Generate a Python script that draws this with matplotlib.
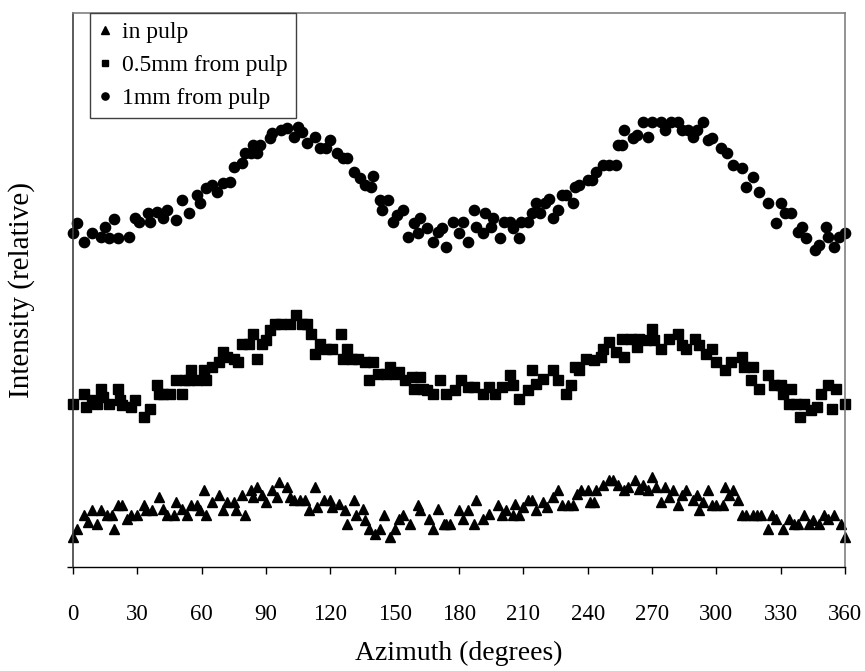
import matplotlib
matplotlib.use('Agg')
import matplotlib.pyplot as plt

# in pulp (triangles)
tri_deg = [0, 2, 5, 7, 9, 11, 13, 16, 18, 19, 21, 23, 25, 27, 30, 33, 34, 37, 40, 42,
           44, 47, 48, 51, 53, 55, 58, 59, 61, 62, 65, 68, 70, 72, 75, 76, 79, 80, 83, 84,
           86, 88, 90, 93, 95, 96, 100, 101, 103, 106, 108, 110, 113, 114, 117, 120, 121, 124, 127, 128,
           131, 132, 135, 136, 138, 141, 143, 145, 148, 150, 152, 154, 157, 161, 162, 166, 168, 170, 173, 174,
           176, 180, 182, 184, 187, 188, 191, 194, 198, 200, 202, 205, 206, 208, 210, 212, 214, 216, 219, 221,
           224, 226, 228, 231, 233, 235, 237, 240, 241, 243, 244, 247, 250, 252, 254, 257, 259, 262, 264, 266,
           268, 270, 272, 274, 276, 278, 280, 282, 284, 286, 289, 291, 292, 294, 296, 298, 300, 303, 304, 306,
           308, 310, 312, 314, 317, 319, 321, 324, 326, 328, 331, 334, 336, 338, 341, 343, 345, 348, 350, 352,
           355, 358, 360]
tri_val = [6.1, 7.7, 10.4, 9.1, 11.4, 8.7, 11.4, 10.4, 10.4, 7.7, 12.4, 12.4, 9.7, 10.4, 10.4, 12.4, 11.4, 11.4, 14.1, 11.7,
           10.4, 10.4, 13.1, 11.7, 10.4, 12.4, 12.4, 11.4, 15.4, 10.4, 13.1, 14.4, 11.4, 13.1, 13.1, 11.4, 14.4, 10.4, 15.4, 14.1,
           16.1, 14.4, 13.1, 15.4, 14.1, 17.1, 16.1, 14.1, 13.4, 13.4, 13.4, 11.4, 16.1, 12.1, 13.4, 13.4, 12.1, 12.7, 11.4, 8.7,
           13.4, 10.4, 11.7, 9.4, 7.7, 6.7, 7.7, 10.4, 6.1, 7.7, 9.7, 10.4, 8.7, 12.4, 11.4, 9.7, 7.7, 11.7, 8.7, 8.7,
           8.7, 11.4, 9.7, 11.4, 8.7, 13.4, 9.7, 10.7, 12.4, 10.4, 11.4, 10.4, 12.7, 10.4, 12.1, 13.4, 13.4, 11.4, 13.1, 12.1,
           14.1, 15.4, 12.4, 12.4, 12.4, 14.7, 15.4, 15.4, 13.1, 13.1, 15.4, 16.4, 17.4, 17.4, 16.4, 15.4, 16.1, 17.4, 15.7, 16.4,
           15.4, 18.1, 16.1, 13.1, 16.1, 14.1, 15.4, 12.4, 14.4, 15.4, 13.4, 14.4, 11.4, 13.1, 15.4, 12.4, 12.4, 12.4, 16.1, 14.4,
           15.4, 13.4, 10.4, 10.4, 10.4, 10.4, 10.4, 7.7, 10.4, 9.7, 7.7, 9.7, 8.7, 8.7, 10.4, 8.7, 9.4, 8.7, 10.4, 9.7,
           10.4, 8.7, 6.1]

# 0.5mm from pulp (squares)
sq_deg = [0, 5, 6, 9, 11, 13, 14, 17, 21, 22, 23, 27, 29, 33, 36, 39, 40, 42, 45, 48,
          51, 52, 54, 55, 58, 61, 62, 65, 68, 70, 72, 75, 77, 79, 82, 84, 86, 88, 90, 92,
          94, 97, 101, 104, 107, 109, 111, 113, 115, 118, 121, 125, 126, 128, 130, 133, 136, 138, 140, 142,
          146, 148, 150, 152, 155, 158, 159, 162, 163, 165, 168, 171, 174, 178, 181, 184, 187, 191, 194, 197,
          200, 204, 205, 208, 212, 214, 216, 219, 224, 226, 230, 232, 234, 236, 239, 243, 246, 247, 250, 253,
          256, 257, 260, 263, 264, 267, 270, 271, 274, 278, 282, 284, 286, 290, 292, 295, 298, 300, 304, 307,
          312, 313, 316, 317, 320, 324, 327, 330, 331, 334, 335, 337, 339, 341, 344, 347, 349, 352, 354, 356,
          360]
sq_val = [32.7, 34.7, 32.1, 33.4, 32.7, 35.7, 34.1, 32.7, 35.7, 33.4, 32.4, 32.1, 33.4, 30.1, 31.7, 36.4, 34.7, 34.7, 34.7, 37.4,
          34.7, 37.4, 37.4, 39.4, 37.4, 39.4, 37.4, 40.1, 41.1, 43.1, 42.1, 41.7, 41.1, 44.7, 44.7, 46.7, 41.7, 44.7, 45.4, 47.4,
          48.7, 48.7, 48.7, 50.4, 48.7, 48.7, 46.7, 42.7, 44.7, 43.7, 43.7, 46.7, 41.7, 43.7, 41.7, 41.7, 41.1, 37.4, 41.1, 38.7,
          38.7, 40.1, 38.7, 39.1, 37.4, 38.1, 35.7, 38.1, 35.7, 35.4, 34.7, 37.4, 34.7, 35.4, 37.4, 36.1, 36.1, 34.7, 36.1, 34.7,
          36.1, 38.4, 36.4, 33.7, 35.4, 39.4, 36.7, 37.7, 39.4, 37.4, 34.7, 36.4, 40.1, 39.4, 41.7, 41.4, 42.1, 43.7, 45.1, 43.1,
          45.7, 42.1, 45.7, 44.1, 45.7, 45.4, 47.7, 45.4, 43.7, 45.7, 46.7, 44.4, 43.7, 45.7, 44.4, 42.7, 43.7, 41.1, 39.4, 41.1,
          42.1, 40.1, 37.4, 40.1, 35.7, 38.4, 36.4, 36.4, 34.7, 32.7, 35.7, 32.7, 30.1, 32.7, 31.4, 32.1, 34.7, 36.4, 31.7, 35.7,
          32.7]

# 1mm from pulp (circles)
circ_deg = [0, 2, 5, 9, 13, 15, 17, 19, 21, 26, 29, 31, 35, 36, 39, 42, 44, 48, 51, 54,
            58, 59, 62, 65, 67, 70, 73, 75, 79, 80, 83, 84, 86, 87, 92, 93, 97, 100, 103, 105,
            107, 109, 113, 115, 118, 120, 123, 126, 128, 131, 134, 136, 139, 140, 143, 144, 147, 149, 151, 154,
            156, 159, 161, 162, 165, 168, 170, 172, 174, 177, 180, 182, 184, 187, 188, 191, 192, 195, 196, 199,
            201, 204, 205, 208, 209, 212, 214, 216, 218, 220, 222, 224, 226, 228, 230, 233, 234, 236, 240, 242,
            244, 247, 250, 253, 254, 256, 257, 261, 263, 266, 268, 270, 274, 276, 279, 282, 284, 287, 289, 291,
            294, 296, 298, 302, 305, 308, 312, 314, 317, 320, 324, 328, 330, 332, 335, 338, 340, 342, 346, 348,
            351, 352, 355, 357, 360]
circ_val = [66.9, 68.9, 65.1, 66.8, 66.1, 68.1, 65.8, 69.7, 65.8, 66.1, 69.8, 69.1, 70.8, 69.1, 71.1, 69.8, 71.4, 69.4, 73.4, 70.8,
            74.4, 72.8, 75.8, 76.4, 75.1, 76.8, 77.1, 80.1, 80.8, 82.8, 82.8, 84.4, 82.8, 84.4, 85.8, 86.8, 87.4, 87.8, 86.1, 88.1,
            87.1, 84.8, 86.1, 83.8, 83.8, 85.4, 82.8, 81.8, 81.8, 79.1, 77.8, 76.4, 76.1, 78.2, 73.4, 71.4, 73.4, 69.1, 70.4, 71.4,
            66.1, 68.8, 66.8, 69.8, 67.8, 65.1, 67.1, 67.8, 64.1, 69.1, 66.8, 69.1, 65.1, 71.4, 68.1, 66.8, 70.8, 68.1, 69.8, 65.8,
            69.1, 69.1, 67.8, 65.8, 69.1, 69.1, 70.8, 72.8, 70.8, 72.8, 73.6, 69.8, 71.4, 74.4, 74.4, 72.8, 76.1, 76.4, 77.4, 77.4,
            79.1, 80.4, 80.4, 80.4, 84.4, 84.4, 87.4, 85.8, 86.4, 89.1, 86.1, 89.1, 89.1, 87.4, 89.1, 89.1, 87.4, 87.4, 86.1, 87.4,
            89.1, 85.4, 85.8, 83.8, 82.8, 80.4, 79.8, 76.1, 78.1, 75.1, 72.8, 68.8, 72.8, 70.8, 70.8, 67.1, 68.1, 65.8, 63.4, 64.4,
            68.1, 66.1, 64.1, 66.1, 66.8]

xticks = list(range(0, 361, 30))

plt.rcParams['font.family'] = ['Liberation Serif', 'DejaVu Serif']

fig = plt.figure(figsize=(8.65, 6.71), dpi=100)
ax = fig.add_axes([73 / 865, 1 - 567 / 671, 772 / 865, 554 / 671])

ax.plot(tri_deg, tri_val, linestyle='none', marker='^', markersize=7.5, color='black',
        label='in pulp', clip_on=False)
ax.plot(sq_deg, sq_val, linestyle='none', marker='s', markersize=6.6, color='black',
        label='0.5mm from pulp', clip_on=False)
ax.plot(circ_deg, circ_val, linestyle='none', marker='o', markersize=7.4, color='black',
        label='1mm from pulp', clip_on=False)

ax.set_xlim(0, 360)
ax.set_ylim(0, 110.8)
ax.set_xticks(xticks)
ax.set_xticklabels([str(t) for t in xticks], fontsize=16.5)
ax.set_yticks([0])
ax.set_yticklabels([''])
ax.tick_params(axis='x', direction='out', length=5, width=1, pad=22)
ax.tick_params(axis='y', direction='out', length=4, width=1)

for side in ['top', 'right']:
    ax.spines[side].set_color('#808080')
    ax.spines[side].set_linewidth(1.2)
ax.spines['left'].set_color('#404040')
ax.spines['left'].set_linewidth(1.2)
ax.spines['bottom'].set_color('black')
ax.spines['bottom'].set_linewidth(1.0)

ax.set_xlabel('Azimuth (degrees)', fontsize=20, labelpad=11)
ax.set_ylabel('Intensity (relative)', fontsize=21, labelpad=20)

leg = ax.legend(loc='upper left', bbox_to_anchor=(17 / 772, 1.0), borderaxespad=0,
                fontsize=17, fancybox=False, edgecolor='#404040', framealpha=1,
                handlelength=0.55, handletextpad=0.45, labelspacing=0.5, borderpad=0.35,
                markerscale=0.7)
leg.get_frame().set_linewidth(1.0)

fig.savefig('out.png', dpi=100)
